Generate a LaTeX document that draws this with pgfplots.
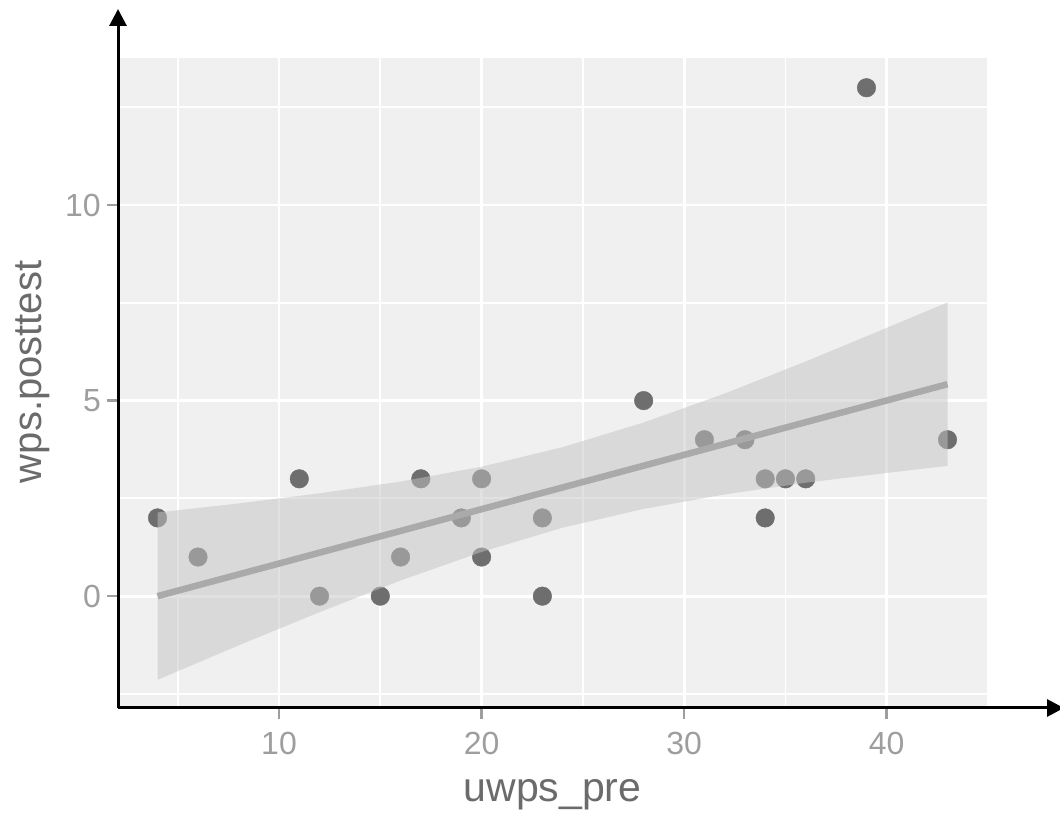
\documentclass[border=0pt]{standalone}
\usepackage{fontspec}
\setmainfont{Liberation Sans}
\usepackage{pgfplots}
\pgfplotsset{compat=1.18}
\usetikzlibrary{arrows.meta}
\definecolor{panel}{HTML}{F0F0F0}
\definecolor{pointgray}{HTML}{6E6E6E}
\definecolor{bandgray}{HTML}{C4C4C4}
\definecolor{linegray}{HTML}{AAAAAA}
\definecolor{tickgray}{HTML}{9E9E9E}
\definecolor{titlegray}{HTML}{6B6B6B}

\begin{document}
\begin{tikzpicture}
\useasboundingbox (0,0) rectangle (1060pt,813pt);
\begin{axis}[
    at={(118pt,105pt)}, anchor=south west,
    scale only axis, width=869pt, height=650pt,
    xmin=2.05, xmax=44.95, ymin=-2.86, ymax=13.76,
    axis lines=left,
    clip marker paths=true,
    axis background/.style={fill=panel},
    x axis line style={line width=3pt, -{Triangle[length=17pt,width=17pt]}, shorten >=-77pt},
    y axis line style={line width=3pt, -{Triangle[length=17pt,width=17pt]}, shorten >=-49pt},
    xtick={10,20,30,40}, ytick={0,5,10},
    minor xtick={5,15,25,35}, minor ytick={-2.5,2.5,7.5,12.5},
    grid=both,
    major grid style={white, line width=2.9pt},
    minor grid style={white, line width=1.8pt},
    tick align=outside,
    major tick length=11pt, minor tick length=0pt,
    tick style={draw=tickgray, line width=2.5pt},
    /pgf/number format/assume math mode=true,
    xticklabel style={font=\fontsize{32}{38}\selectfont, text=tickgray, inner sep=0pt, anchor=north, yshift=-13pt},
    yticklabel style={font=\fontsize{32}{38}\selectfont, text=tickgray, inner sep=0pt, anchor=east, xshift=-6pt},
    xlabel={uwps\_pre}, ylabel={wps.posttest},
    xlabel style={font=\fontsize{41}{48}\selectfont, text=titlegray, at={(axis description cs:0.5,-0.1431)}, anchor=base, inner sep=0pt},
    ylabel style={font=\fontsize{40}{48}\selectfont, text=titlegray, at={(axis description cs:-0.0875,0.517)}, anchor=base, inner sep=0pt, rotate=0},
]
% observations
\addplot[only marks, mark=*, mark size=9.3pt, color=pointgray] coordinates {
  (4,2) (6,1) (11,3) (12,0) (15,0) (16,1) (17,3) (19,2) (20,3) (20,1)
  (23,2) (23,0) (28,5) (31,4) (33,4) (34,3) (34,2) (35,3) (36,3) (39,13) (43,4)
};
% confidence band
\addplot[draw=none, fill=bandgray, fill opacity=0.5] coordinates {
  (4,2.14) (8,2.37) (12,2.63) (16,2.93) (20,3.31) (24,3.81) (28,4.44) (32,5.18) (36,6.00) (40,6.86) (43,7.51)
  (43,3.33) (40,3.15) (36,2.90) (32,2.60) (28,2.23) (24,1.75) (20,1.13) (16,0.40) (12,-0.41) (8,-1.26) (4,-2.14)
} -- cycle;
% fitted line
\addplot[linegray, line width=6.5pt] coordinates {(4,0.0) (43,5.42)};
\end{axis}
\end{tikzpicture}
\end{document}
